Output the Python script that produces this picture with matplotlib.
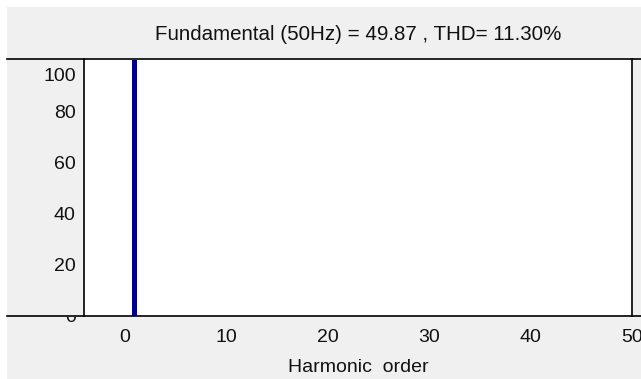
import matplotlib
matplotlib.use("Agg")
import matplotlib.pyplot as plt
from matplotlib.patches import Rectangle
from matplotlib.lines import Line2D
from matplotlib.transforms import Bbox, ScaledTranslation

# Harmonic spectrum (percent of fundamental)
harmonic_order = [1]
magnitude_pct = [100.0]

fundamental_hz = 50
fundamental_mag = 49.87
thd_pct = 11.30

x_ticks = [0, 10, 20, 30, 40, 50]
y_ticks = [0, 20, 40, 60, 80, 100]

W, H, DPI = 641, 379, 100
plt.rcParams["font.family"] = ["Liberation Sans", "DejaVu Sans"]

fig = plt.figure(figsize=(W / DPI, H / DPI), dpi=DPI, facecolor="white")

def fx(px):
    return px / W

def fy(py):
    return 1 - py / H

# grey panel background
fig.patches.append(Rectangle((fx(7), 0), 1 - fx(7), fy(7), transform=fig.transFigure,
                             facecolor="#f0f0f0", edgecolor="none", zorder=-10))

left, right, top, bottom = 84, 632, 59, 316
ax = fig.add_axes([fx(left), fy(bottom), fx(right) - fx(left), fy(top) - fy(bottom)])
ax.set_facecolor("white")

ax.bar(harmonic_order, magnitude_pct, width=0.5, color="#00008f", edgecolor="none")

ax.set_xlim(-4, 50)
ax.set_ylim(0, 100.5)
ax.set_xticks(x_ticks)
ax.set_yticks(y_ticks)
ax.tick_params(axis="both", length=0, labelsize=14, colors="#111111")
ax.tick_params(axis="x", pad=9)
ax.tick_params(axis="y", pad=6)
for s in ["top", "bottom"]:
    ax.spines[s].set_visible(False)
for s in ["left", "right"]:
    ax.spines[s].set_linewidth(1.2)

ax.set_xlabel("Harmonic  order", fontsize=14, labelpad=10, color="#111111")
ax.set_title(f"Fundamental ({fundamental_hz}Hz) = {fundamental_mag:.2f} , THD= {thd_pct:.2f}%",
             fontsize=14.8, pad=14, color="#111111")

# panel border lines spanning the full width
for py in (top, bottom):
    fig.add_artist(Line2D([fx(7), 1], [fy(py), fy(py)], transform=fig.transFigure,
                          color="black", linewidth=1.2, zorder=5))

fig.canvas.draw()
labels = ax.get_yticklabels()
# lowest label is cut by the panel edge, top label sits a bit lower
labels[0].set_clip_box(Bbox([[0, 0], [W, fy(bottom) * H - 1]]))
labels[0].set_clip_on(True)
labels[-1].set_transform(labels[-1].get_transform()
                         + ScaledTranslation(0, -14 / DPI, fig.dpi_scale_trans))

fig.savefig("out.png", dpi=DPI, facecolor=fig.get_facecolor())
